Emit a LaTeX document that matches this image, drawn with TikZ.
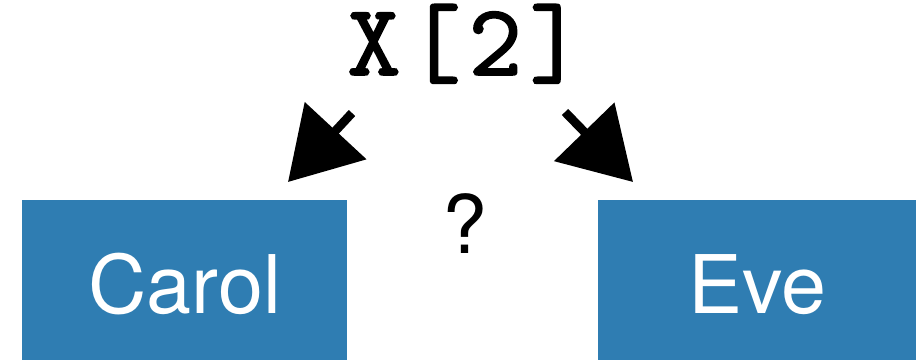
\documentclass[tikz,border=0pt]{standalone}
\usepackage{fontspec}
\setmainfont{TeX Gyre Heros}
\newfontfamily\codefont{lmmono10-regular.otf}[LetterSpace=7, FakeBold=1.5]
\usepackage{xcolor}
\definecolor{boxblue}{RGB}{47,125,178}
\usetikzlibrary{arrows.meta, positioning}

\begin{document}
\begin{tikzpicture}[
    x=0.01cm, y=0.01cm,
    person/.style={fill=boxblue, minimum width=3.25cm, minimum height=1.6cm, inner sep=0pt},
    persontext/.style={font=\fontsize{23}{23}\selectfont, white, anchor=base},
    arr/.style={-{Triangle[length=0.7cm, width=0.82cm]}, line width=2.5pt, black},
]
\useasboundingbox (0,0) rectangle (916,360);

\node[person] (carol) at (184.5,80) {};
\node[person, minimum width=3.18cm] (eve) at (757,80) {};
\node[persontext] (carolname) at (184.5,47) {Carol};
\node[persontext] (evename) at (757,47) {Eve};

\node[font=\codefont\fontsize{29}{29}\selectfont, anchor=base] (elem) at (465,285) {X[2]};
\node[font=\fontsize{23}{23}\selectfont, anchor=base] (which) at (465,107) {?};

\coordinate (lstart) at (352,247);
\coordinate (lend) at (288,178);
\coordinate (rstart) at (565,248);
\coordinate (rend) at (633,178);
\draw[arr] (lstart) -- (lend);
\draw[arr] (rstart) -- (rend);
\end{tikzpicture}
\end{document}
